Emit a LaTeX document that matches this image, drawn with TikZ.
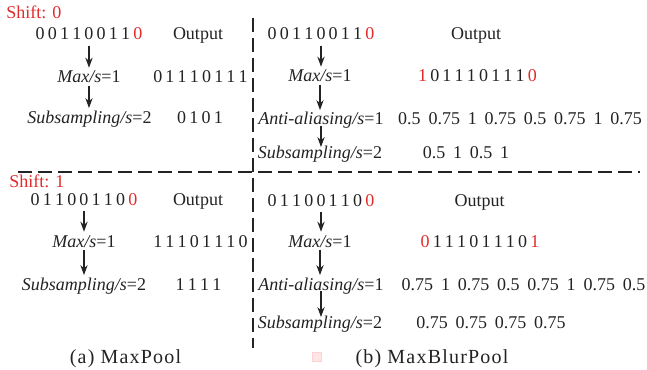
\documentclass[tikz,border=0pt]{standalone}
\usepackage{fontspec}
\setmainfont{Liberation Serif}
\newfontfamily\capfont[LetterSpace=6]{Liberation Serif}
\usetikzlibrary{arrows.meta}
\definecolor{shiftred}{RGB}{226,44,44}
\definecolor{ink}{RGB}{35,35,35}
\newcommand\bsp{\hspace{1.6pt}}
\newcommand\vsp{\hspace{3.9pt}}
\newcommand\rd[1]{\textcolor{shiftred}{#1}}
\begin{document}
\begin{tikzpicture}[x=0.5pt,y=-0.5pt,
  txt/.style={anchor=base,inner sep=0pt,text=ink,font=\fontsize{9}{10}\selectfont},
  captxt/.style={anchor=base,inner sep=0pt,text=ink,font=\capfont\fontsize{10}{12}\selectfont},
  arr/.style={draw=ink,line width=0.75pt,-{Stealth[length=5pt,width=3.6pt]}},
  sep/.style={draw=ink,line width=1pt,dash pattern=on 7pt off 3pt}]
\fill[white] (0,0) rectangle (647,369);
\useasboundingbox (0,0) rectangle (647,369);

% separators
\draw[sep] (18,172) -- (640,172);
\draw[sep] (252.5,18) -- (252.5,348);

% ---------- shift 0, MaxPool ----------
\node[txt,text=shiftred,anchor=base west] (s0) at (6,19) {Shift: 0};
\node[txt] (a0in) at (89,40) {0\bsp0\bsp1\bsp1\bsp0\bsp0\bsp1\bsp1\bsp\rd{0}};
\node[txt] (a0out) at (198,40) {Output};
\node[txt] (a0max) at (89,83) {\textit{Max/s}=1};
\node[txt] (a0maxv) at (200.5,83) {0\bsp1\bsp1\bsp1\bsp0\bsp1\bsp1\bsp1};
\node[txt] (a0sub) at (89.5,123) {\textit{Subsampling/s}=2};
\node[txt] (a0subv) at (200,123) {0\bsp1\bsp0\bsp1};
\draw[arr] ([yshift=-2.5pt]a0in.south) -- ([yshift=1.5pt]a0in.south |- a0max.north);
\draw[arr] ([yshift=-1pt]a0max.south) -- ([yshift=1pt]a0max.south |- a0sub.north);

% ---------- shift 0, MaxBlurPool ----------
\node[txt] (b0in) at (321,40) {0\bsp0\bsp1\bsp1\bsp0\bsp0\bsp1\bsp1\bsp\rd{0}};
\node[txt] (b0out) at (476,40) {Output};
\node[txt] (b0max) at (320,82) {\textit{Max/s}=1};
\node[txt] (b0maxv) at (477.5,82) {\rd{1}\bsp0\bsp1\bsp1\bsp1\bsp0\bsp1\bsp1\bsp1\bsp\rd{0}};
\node[txt] (b0aa) at (321,125) {\textit{Anti-aliasing/s}=1};
\node[txt] (b0aav) at (520,125) {0.5\vsp0.75\vsp1\vsp0.75\vsp0.5\vsp0.75\vsp1\vsp0.75};
\node[txt] (b0sub) at (320,158) {\textit{Subsampling/s}=2};
\node[txt] (b0subv) at (466,158) {0.5\vsp1\vsp0.5\vsp1};
\draw[arr] ([yshift=-2.5pt]b0in.south) -- ([yshift=1.5pt]b0in.south |- b0max.north);
\draw[arr] ([yshift=-1pt]b0max.south) -- ([yshift=1pt]b0max.south |- b0aa.north);
\draw[arr] ([yshift=1.5pt]b0aa.south) -- ([yshift=-1pt]b0aa.south |- b0sub.north);

% ---------- shift 1, MaxPool ----------
\node[txt,text=shiftred,anchor=base west] (s1) at (9,187) {Shift: 1};
\node[txt] (a1in) at (84,205) {0\bsp1\bsp1\bsp0\bsp0\bsp1\bsp1\bsp0\bsp\rd{0}};
\node[txt] (a1out) at (198,205) {Output};
\node[txt] (a1max) at (84,247) {\textit{Max/s}=1};
\node[txt] (a1maxv) at (200.5,247) {1\bsp1\bsp1\bsp0\bsp1\bsp1\bsp1\bsp0};
\node[txt] (a1sub) at (84,290) {\textit{Subsampling/s}=2};
\node[txt] (a1subv) at (198.5,290) {1\bsp1\bsp1\bsp1};
\draw[arr] ([yshift=-2.5pt]a1in.south) -- ([yshift=1.5pt]a1in.south |- a1max.north);
\draw[arr] ([yshift=-1pt]a1max.south) -- ([yshift=1pt]a1max.south |- a1sub.north);

% ---------- shift 1, MaxBlurPool ----------
\node[txt] (b1in) at (321,206) {0\bsp1\bsp1\bsp0\bsp0\bsp1\bsp1\bsp0\bsp\rd{0}};
\node[txt] (b1out) at (479.5,206) {Output};
\node[txt] (b1max) at (320,247) {\textit{Max/s}=1};
\node[txt] (b1maxv) at (480,247) {\rd{0}\bsp1\bsp1\bsp1\bsp0\bsp1\bsp1\bsp1\bsp0\bsp\rd{1}};
\node[txt] (b1aa) at (321,290) {\textit{Anti-aliasing/s}=1};
\node[txt] (b1aav) at (523.5,290) {0.75\vsp1\vsp0.75\vsp0.5\vsp0.75\vsp1\vsp0.75\vsp0.5};
\node[txt] (b1sub) at (320,328) {\textit{Subsampling/s}=2};
\node[txt] (b1subv) at (491,328) {0.75\vsp0.75\vsp0.75\vsp0.75};
\draw[arr] ([yshift=-2.5pt]b1in.south) -- ([yshift=1.5pt]b1in.south |- b1max.north);
\draw[arr] ([yshift=-1pt]b1max.south) -- ([yshift=1pt]b1max.south |- b1aa.north);
\draw[arr] ([yshift=1.5pt]b1aa.south) -- ([yshift=-1pt]b1aa.south |- b1sub.north);

% captions
\node[captxt] (capa) at (125.5,363) {(a) MaxPool};
\node[captxt] (capb) at (432,363) {(b) MaxBlurPool};
\fill[red!10,draw=red!18,line width=0.4pt] (312,352) rectangle (321,361);
\end{tikzpicture}
\end{document}
